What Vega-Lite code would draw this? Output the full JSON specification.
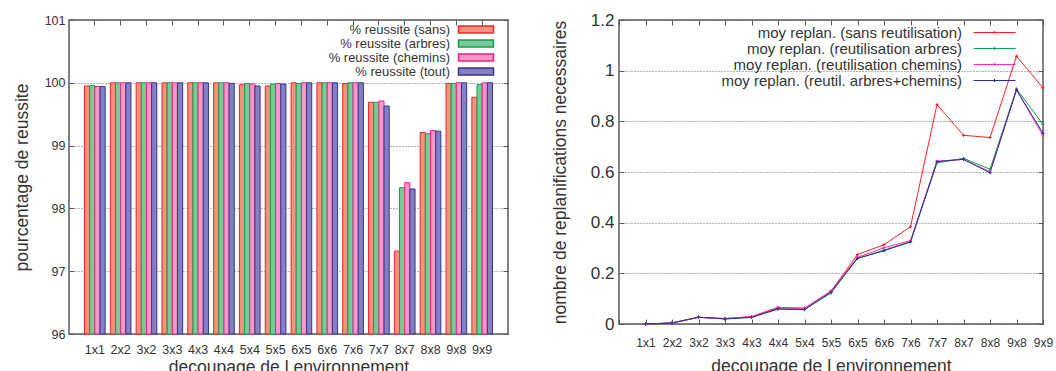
{
  "$schema": "https://vega.github.io/schema/vega-lite/v6.json",
  "padding": {"left": 12, "top": 10, "right": 0, "bottom": 0},
  "background": "white",
  "spacing": 40,
  "config": {
    "font": "Liberation Sans",
    "view": {"stroke": "#5a5a5a", "strokeWidth": 1.5},
    "axis": {
      "domain": false,
      "labelColor": "#333333",
      "titleColor": "#333333",
      "titleFontWeight": "normal",
      "titleFontSize": 17.5,
      "tickColor": "#5a5a5a",
      "tickSize": -5,
      "tickWidth": 1,
      "grid": false,
      "labelOverlap": false
    },
    "legend": {"labelColor": "#333333"}
  },
  "datasets": {
    "reussite": [
      {"decoupage": "1x1", "serie": "% reussite (sans)", "pct": 99.95},
      {"decoupage": "1x1", "serie": "% reussite (arbres)", "pct": 99.96},
      {"decoupage": "1x1", "serie": "% reussite (chemins)", "pct": 99.94},
      {"decoupage": "1x1", "serie": "% reussite (tout)", "pct": 99.94},
      {"decoupage": "2x2", "serie": "% reussite (sans)", "pct": 100},
      {"decoupage": "2x2", "serie": "% reussite (arbres)", "pct": 100},
      {"decoupage": "2x2", "serie": "% reussite (chemins)", "pct": 100},
      {"decoupage": "2x2", "serie": "% reussite (tout)", "pct": 100},
      {"decoupage": "3x2", "serie": "% reussite (sans)", "pct": 100},
      {"decoupage": "3x2", "serie": "% reussite (arbres)", "pct": 100},
      {"decoupage": "3x2", "serie": "% reussite (chemins)", "pct": 100},
      {"decoupage": "3x2", "serie": "% reussite (tout)", "pct": 100},
      {"decoupage": "3x3", "serie": "% reussite (sans)", "pct": 100},
      {"decoupage": "3x3", "serie": "% reussite (arbres)", "pct": 100},
      {"decoupage": "3x3", "serie": "% reussite (chemins)", "pct": 100},
      {"decoupage": "3x3", "serie": "% reussite (tout)", "pct": 100},
      {"decoupage": "4x3", "serie": "% reussite (sans)", "pct": 100},
      {"decoupage": "4x3", "serie": "% reussite (arbres)", "pct": 100},
      {"decoupage": "4x3", "serie": "% reussite (chemins)", "pct": 100},
      {"decoupage": "4x3", "serie": "% reussite (tout)", "pct": 100},
      {"decoupage": "4x4", "serie": "% reussite (sans)", "pct": 100},
      {"decoupage": "4x4", "serie": "% reussite (arbres)", "pct": 100},
      {"decoupage": "4x4", "serie": "% reussite (chemins)", "pct": 100},
      {"decoupage": "4x4", "serie": "% reussite (tout)", "pct": 99.99},
      {"decoupage": "5x4", "serie": "% reussite (sans)", "pct": 99.97},
      {"decoupage": "5x4", "serie": "% reussite (arbres)", "pct": 99.99},
      {"decoupage": "5x4", "serie": "% reussite (chemins)", "pct": 99.98},
      {"decoupage": "5x4", "serie": "% reussite (tout)", "pct": 99.95},
      {"decoupage": "5x5", "serie": "% reussite (sans)", "pct": 99.95},
      {"decoupage": "5x5", "serie": "% reussite (arbres)", "pct": 99.98},
      {"decoupage": "5x5", "serie": "% reussite (chemins)", "pct": 99.99},
      {"decoupage": "5x5", "serie": "% reussite (tout)", "pct": 99.98},
      {"decoupage": "6x5", "serie": "% reussite (sans)", "pct": 100},
      {"decoupage": "6x5", "serie": "% reussite (arbres)", "pct": 99.99},
      {"decoupage": "6x5", "serie": "% reussite (chemins)", "pct": 100},
      {"decoupage": "6x5", "serie": "% reussite (tout)", "pct": 100},
      {"decoupage": "6x6", "serie": "% reussite (sans)", "pct": 100},
      {"decoupage": "6x6", "serie": "% reussite (arbres)", "pct": 100},
      {"decoupage": "6x6", "serie": "% reussite (chemins)", "pct": 100},
      {"decoupage": "6x6", "serie": "% reussite (tout)", "pct": 100},
      {"decoupage": "7x6", "serie": "% reussite (sans)", "pct": 99.99},
      {"decoupage": "7x6", "serie": "% reussite (arbres)", "pct": 100},
      {"decoupage": "7x6", "serie": "% reussite (chemins)", "pct": 100},
      {"decoupage": "7x6", "serie": "% reussite (tout)", "pct": 100},
      {"decoupage": "7x7", "serie": "% reussite (sans)", "pct": 99.69},
      {"decoupage": "7x7", "serie": "% reussite (arbres)", "pct": 99.69},
      {"decoupage": "7x7", "serie": "% reussite (chemins)", "pct": 99.71},
      {"decoupage": "7x7", "serie": "% reussite (tout)", "pct": 99.63},
      {"decoupage": "8x7", "serie": "% reussite (sans)", "pct": 97.32},
      {"decoupage": "8x7", "serie": "% reussite (arbres)", "pct": 98.33},
      {"decoupage": "8x7", "serie": "% reussite (chemins)", "pct": 98.41},
      {"decoupage": "8x7", "serie": "% reussite (tout)", "pct": 98.31},
      {"decoupage": "8x8", "serie": "% reussite (sans)", "pct": 99.21},
      {"decoupage": "8x8", "serie": "% reussite (arbres)", "pct": 99.19},
      {"decoupage": "8x8", "serie": "% reussite (chemins)", "pct": 99.24},
      {"decoupage": "8x8", "serie": "% reussite (tout)", "pct": 99.23},
      {"decoupage": "9x8", "serie": "% reussite (sans)", "pct": 99.99},
      {"decoupage": "9x8", "serie": "% reussite (arbres)", "pct": 99.99},
      {"decoupage": "9x8", "serie": "% reussite (chemins)", "pct": 100},
      {"decoupage": "9x8", "serie": "% reussite (tout)", "pct": 100},
      {"decoupage": "9x9", "serie": "% reussite (sans)", "pct": 99.77},
      {"decoupage": "9x9", "serie": "% reussite (arbres)", "pct": 99.97},
      {"decoupage": "9x9", "serie": "% reussite (chemins)", "pct": 100},
      {"decoupage": "9x9", "serie": "% reussite (tout)", "pct": 100}
    ],
    "replan": [
      {"decoupage": "1x1", "serie": "moy replan. (sans reutilisation)", "moy": 0},
      {"decoupage": "1x1", "serie": "moy replan. (reutilisation arbres)", "moy": 0},
      {"decoupage": "1x1", "serie": "moy replan. (reutilisation chemins)", "moy": 0},
      {"decoupage": "1x1", "serie": "moy replan. (reutil. arbres+chemins)", "moy": 0},
      {"decoupage": "2x2", "serie": "moy replan. (sans reutilisation)", "moy": 0.004},
      {"decoupage": "2x2", "serie": "moy replan. (reutilisation arbres)", "moy": 0.004},
      {"decoupage": "2x2", "serie": "moy replan. (reutilisation chemins)", "moy": 0.004},
      {"decoupage": "2x2", "serie": "moy replan. (reutil. arbres+chemins)", "moy": 0.004},
      {"decoupage": "3x2", "serie": "moy replan. (sans reutilisation)", "moy": 0.026},
      {"decoupage": "3x2", "serie": "moy replan. (reutilisation arbres)", "moy": 0.027},
      {"decoupage": "3x2", "serie": "moy replan. (reutilisation chemins)", "moy": 0.026},
      {"decoupage": "3x2", "serie": "moy replan. (reutil. arbres+chemins)", "moy": 0.027},
      {"decoupage": "3x3", "serie": "moy replan. (sans reutilisation)", "moy": 0.022},
      {"decoupage": "3x3", "serie": "moy replan. (reutilisation arbres)", "moy": 0.02},
      {"decoupage": "3x3", "serie": "moy replan. (reutilisation chemins)", "moy": 0.021},
      {"decoupage": "3x3", "serie": "moy replan. (reutil. arbres+chemins)", "moy": 0.02},
      {"decoupage": "4x3", "serie": "moy replan. (sans reutilisation)", "moy": 0.029},
      {"decoupage": "4x3", "serie": "moy replan. (reutilisation arbres)", "moy": 0.027},
      {"decoupage": "4x3", "serie": "moy replan. (reutilisation chemins)", "moy": 0.029},
      {"decoupage": "4x3", "serie": "moy replan. (reutil. arbres+chemins)", "moy": 0.026},
      {"decoupage": "4x4", "serie": "moy replan. (sans reutilisation)", "moy": 0.064},
      {"decoupage": "4x4", "serie": "moy replan. (reutilisation arbres)", "moy": 0.058},
      {"decoupage": "4x4", "serie": "moy replan. (reutilisation chemins)", "moy": 0.066},
      {"decoupage": "4x4", "serie": "moy replan. (reutil. arbres+chemins)", "moy": 0.06},
      {"decoupage": "5x4", "serie": "moy replan. (sans reutilisation)", "moy": 0.062},
      {"decoupage": "5x4", "serie": "moy replan. (reutilisation arbres)", "moy": 0.057},
      {"decoupage": "5x4", "serie": "moy replan. (reutilisation chemins)", "moy": 0.062},
      {"decoupage": "5x4", "serie": "moy replan. (reutil. arbres+chemins)", "moy": 0.057},
      {"decoupage": "5x5", "serie": "moy replan. (sans reutilisation)", "moy": 0.129},
      {"decoupage": "5x5", "serie": "moy replan. (reutilisation arbres)", "moy": 0.122},
      {"decoupage": "5x5", "serie": "moy replan. (reutilisation chemins)", "moy": 0.13},
      {"decoupage": "5x5", "serie": "moy replan. (reutil. arbres+chemins)", "moy": 0.126},
      {"decoupage": "6x5", "serie": "moy replan. (sans reutilisation)", "moy": 0.274},
      {"decoupage": "6x5", "serie": "moy replan. (reutilisation arbres)", "moy": 0.259},
      {"decoupage": "6x5", "serie": "moy replan. (reutilisation chemins)", "moy": 0.263},
      {"decoupage": "6x5", "serie": "moy replan. (reutil. arbres+chemins)", "moy": 0.259},
      {"decoupage": "6x6", "serie": "moy replan. (sans reutilisation)", "moy": 0.313},
      {"decoupage": "6x6", "serie": "moy replan. (reutilisation arbres)", "moy": 0.292},
      {"decoupage": "6x6", "serie": "moy replan. (reutilisation chemins)", "moy": 0.301},
      {"decoupage": "6x6", "serie": "moy replan. (reutil. arbres+chemins)", "moy": 0.289},
      {"decoupage": "7x6", "serie": "moy replan. (sans reutilisation)", "moy": 0.384},
      {"decoupage": "7x6", "serie": "moy replan. (reutilisation arbres)", "moy": 0.325},
      {"decoupage": "7x6", "serie": "moy replan. (reutilisation chemins)", "moy": 0.329},
      {"decoupage": "7x6", "serie": "moy replan. (reutil. arbres+chemins)", "moy": 0.324},
      {"decoupage": "7x7", "serie": "moy replan. (sans reutilisation)", "moy": 0.866},
      {"decoupage": "7x7", "serie": "moy replan. (reutilisation arbres)", "moy": 0.636},
      {"decoupage": "7x7", "serie": "moy replan. (reutilisation chemins)", "moy": 0.643},
      {"decoupage": "7x7", "serie": "moy replan. (reutil. arbres+chemins)", "moy": 0.641},
      {"decoupage": "8x7", "serie": "moy replan. (sans reutilisation)", "moy": 0.745},
      {"decoupage": "8x7", "serie": "moy replan. (reutilisation arbres)", "moy": 0.654},
      {"decoupage": "8x7", "serie": "moy replan. (reutilisation chemins)", "moy": 0.65},
      {"decoupage": "8x7", "serie": "moy replan. (reutil. arbres+chemins)", "moy": 0.65},
      {"decoupage": "8x8", "serie": "moy replan. (sans reutilisation)", "moy": 0.736},
      {"decoupage": "8x8", "serie": "moy replan. (reutilisation arbres)", "moy": 0.611},
      {"decoupage": "8x8", "serie": "moy replan. (reutilisation chemins)", "moy": 0.601},
      {"decoupage": "8x8", "serie": "moy replan. (reutil. arbres+chemins)", "moy": 0.597},
      {"decoupage": "9x8", "serie": "moy replan. (sans reutilisation)", "moy": 1.057},
      {"decoupage": "9x8", "serie": "moy replan. (reutilisation arbres)", "moy": 0.928},
      {"decoupage": "9x8", "serie": "moy replan. (reutilisation chemins)", "moy": 0.925},
      {"decoupage": "9x8", "serie": "moy replan. (reutil. arbres+chemins)", "moy": 0.924},
      {"decoupage": "9x9", "serie": "moy replan. (sans reutilisation)", "moy": 0.932},
      {"decoupage": "9x9", "serie": "moy replan. (reutilisation arbres)", "moy": 0.788},
      {"decoupage": "9x9", "serie": "moy replan. (reutilisation chemins)", "moy": 0.743},
      {"decoupage": "9x9", "serie": "moy replan. (reutil. arbres+chemins)", "moy": 0.753}
    ]
  },
  "hconcat": [
    {
      "width": 439,
      "height": 314,
      "data": {"name": "reussite"},
      "resolve": {"axis": {"x": "independent", "y": "independent"}},
      "layer": [
        {
          "mark": {"type": "bar", "strokeWidth": 1},
          "encoding": {
            "x": {
              "field": "decoupage", "type": "nominal", "sort": null,
              "scale": {"paddingInner": 0.2, "paddingOuter": 0.6},
              "axis": {"title": "decoupage de l environnement", "labelAngle": 0, "labelFontSize": 12.5, "labelPadding": 14, "titlePadding": 3}
            },
            "xOffset": {
              "field": "serie", "type": "nominal",
              "scale": {"domain": ["% reussite (sans)", "% reussite (arbres)", "% reussite (chemins)", "% reussite (tout)"], "paddingInner": 0, "paddingOuter": 0}
            },
            "y": {
              "field": "pct", "type": "quantitative",
              "scale": {"domain": [96, 101], "zero": false, "nice": false},
              "axis": {"title": "pourcentage de reussite", "values": [96, 97, 98, 99, 100, 101], "labelFontSize": 12.5, "labelPadding": 9, "titlePadding": 13, "grid": true, "gridDash": [1, 2], "gridColor": "#666666", "gridWidth": 1}
            },
            "y2": {"datum": 96},
            "fill": {
              "field": "serie", "type": "nominal",
              "scale": {"domain": ["% reussite (sans)", "% reussite (arbres)", "% reussite (chemins)", "% reussite (tout)"], "range": ["#f4937b", "#76cc95", "#f39ac6", "#8480c2"]},
              "legend": {
                "title": null, "orient": "none", "legendX": 388, "legendY": 3,
                "padding": 0, "rowPadding": -0.5,
                "symbolType": "M-1,-0.7L6.0,-0.7L6.0,0.7L-1,0.7Z", "symbolSize": 100, "symbolStrokeWidth": 1.5, "symbolOpacity": 1,
                "labelFontSize": 13, "labelAlign": "right", "labelOffset": -20, "labelLimit": 300
              }
            },
            "stroke": {
              "field": "serie", "type": "nominal",
              "scale": {"domain": ["% reussite (sans)", "% reussite (arbres)", "% reussite (chemins)", "% reussite (tout)"], "range": ["#e8262a", "#10a050", "#f0208c", "#343394"]}
            }
          }
        },
        {
          "mark": {"type": "bar", "opacity": 0},
          "encoding": {
            "x": {"field": "decoupage", "type": "nominal", "sort": null, "axis": {"orient": "top", "labels": false, "title": null}},
            "xOffset": {"field": "serie", "type": "nominal"},
            "y": {"field": "pct", "type": "quantitative", "axis": {"orient": "right", "labels": false, "title": null, "values": [96, 97, 98, 99, 100, 101]}},
            "y2": {"datum": 96}
          }
        }
      ]
    },
    {
      "width": 424,
      "height": 304,
      "data": {"name": "replan"},
      "resolve": {"axis": {"x": "independent", "y": "independent"}},
      "layer": [
        {
          "mark": {"type": "line", "strokeWidth": 1},
          "encoding": {
            "x": {
              "field": "decoupage", "type": "ordinal",
              "scale": {"type": "point", "domain": [" ", "1x1", "2x2", "3x2", "3x3", "4x3", "4x4", "5x4", "5x5", "6x5", "6x6", "7x6", "7x7", "8x7", "8x8", "9x8", "9x9"], "padding": 0},
              "axis": {"title": "decoupage de l environnement", "labelAngle": 0, "labelFontSize": 12, "labelPadding": 18, "titlePadding": 9}
            },
            "y": {
              "field": "moy", "type": "quantitative",
              "scale": {"domain": [0, 1.2], "nice": false},
              "axis": {"title": "nombre de replanifications necessaires", "values": [0, 0.2, 0.4, 0.6, 0.8, 1, 1.2], "format": "~g", "labelFontSize": 17, "labelPadding": 10, "titlePadding": 21, "grid": true, "gridDash": [1, 2], "gridColor": "#666666", "gridWidth": 1}
            },
            "color": {
              "field": "serie", "type": "nominal",
              "scale": {"domain": ["moy replan. (sans reutilisation)", "moy replan. (reutilisation arbres)", "moy replan. (reutilisation chemins)", "moy replan. (reutil. arbres+chemins)"], "range": ["#ff2020", "#10a050", "#ff30a0", "#2c2ca0"]},
              "legend": {
                "title": null, "orient": "none", "legendX": 902, "legendY": 5,
                "padding": 0, "rowPadding": -0.5,
                "symbolType": "M-1,0L7.4,0M3.2,-0.3L3.2,0.3", "symbolSize": 100, "symbolStrokeWidth": 1.2, "symbolFillColor": "transparent",
                "labelFontSize": 15, "labelAlign": "right", "labelOffset": -24, "labelLimit": 400
              }
            }
          }
        },
        {
          "mark": {"type": "point", "shape": "M-1,0L1,0M0,-1L0,1", "size": 10, "filled": false, "strokeWidth": 1, "opacity": 1},
          "encoding": {
            "x": {"field": "decoupage", "type": "ordinal", "axis": {"orient": "top", "labels": false, "title": null}},
            "y": {"field": "moy", "type": "quantitative", "axis": {"orient": "right", "labels": false, "title": null, "values": [0, 0.2, 0.4, 0.6, 0.8, 1, 1.2]}},
            "color": {"field": "serie", "type": "nominal"}
          }
        }
      ]
    }
  ]
}
